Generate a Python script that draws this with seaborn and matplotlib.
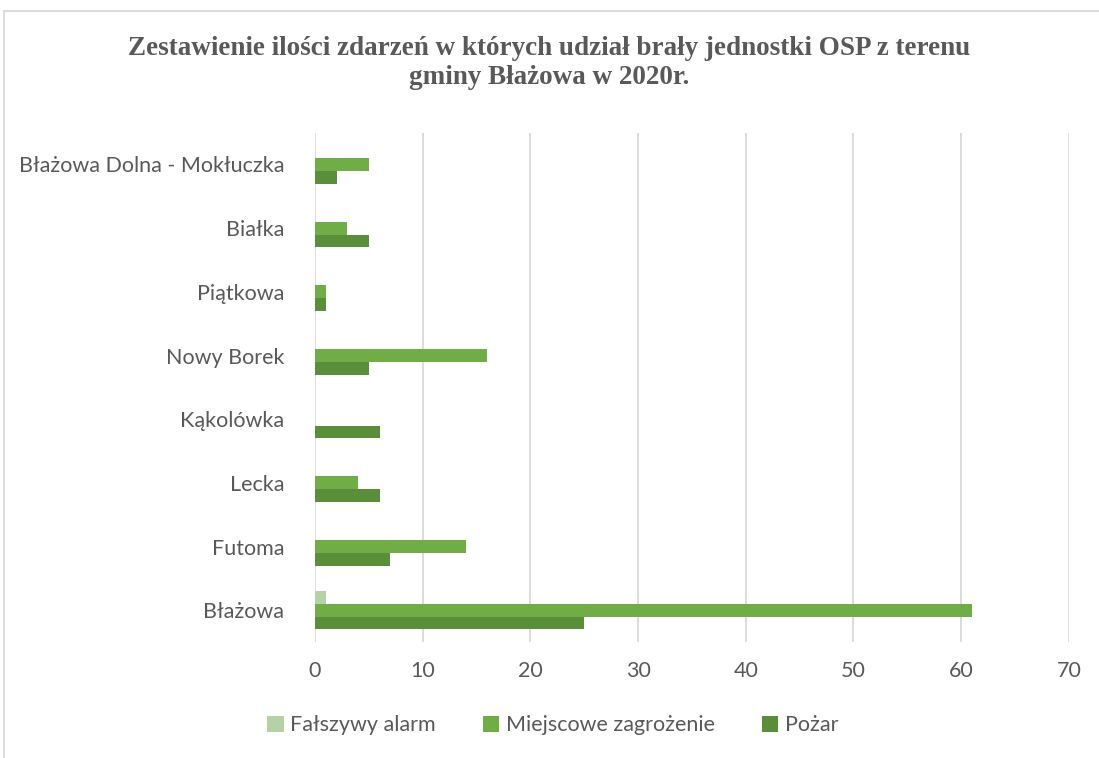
import pandas as pd
import seaborn as sns
import matplotlib.pyplot as plt
from matplotlib.patches import Rectangle

# data
villages = ['Błażowa Dolna - Mokłuczka', 'Białka', 'Piątkowa', 'Nowy Borek',
            'Kąkolówka', 'Lecka', 'Futoma', 'Błażowa']
falszywy = [0, 0, 0, 0, 0, 0, 0, 1]
miejscowe = [5, 3, 1, 16, 0, 4, 14, 61]
pozar = [2, 5, 1, 5, 6, 6, 7, 25]
series = ['Fałszywy alarm', 'Miejscowe zagrożenie', 'Pożar']
colors = ['#B5D1A6', '#70AD47', '#5B8E3B']

df = pd.DataFrame({'Miejscowość': villages, series[0]: falszywy,
                   series[1]: miejscowe, series[2]: pozar})
df = df.melt(id_vars='Miejscowość', var_name='Rodzaj', value_name='Liczba')

sns.set_style('white')
plt.rcParams['font.family'] = ['Lato', 'DejaVu Sans']

fig = plt.figure(figsize=(10.99, 7.58), dpi=100)
ax = fig.add_axes([0.2866, 0.153, 0.686, 0.672])

sns.barplot(data=df, x='Liczba', y='Miejscowość', hue='Rodzaj', hue_order=series,
            palette=colors, saturation=1, width=0.6, orient='h', ax=ax, legend=True,
            edgecolor='none')

ax.set_xlim(0, 70)
ax.set_xticks(range(0, 71, 10))
ax.set_xlabel('')
ax.set_ylabel('')
ax.grid(axis='x', color='#D9D9D9', linewidth=1.3)
ax.set_axisbelow(True)
for s in ax.spines.values():
    s.set_visible(False)
ax.tick_params(axis='both', length=0, labelsize=15.5, colors='#595959')
ax.tick_params(axis='y', pad=22)
ax.tick_params(axis='x', pad=14)

handles, labels = ax.get_legend_handles_labels()
ax.get_legend().remove()
leg = fig.legend(handles, labels, loc='center', bbox_to_anchor=(0.503, 0.043), ncol=3,
                 frameon=False, fontsize=15.5, handlelength=0.75, handleheight=0.75,
                 columnspacing=2.2, handletextpad=0.3)
for t in leg.get_texts():
    t.set_color('#595959')

fig.text(0.5, 0.917, 'Zestawienie ilości zdarzeń w których udział brały jednostki OSP z terenu\ngminy Błażowa w 2020r.',
         ha='center', va='center', fontsize=19.5, fontweight='bold', color='#595959',
         family='Liberation Serif', linespacing=1.2)

fig.patches.append(Rectangle((4 / 1099, -0.1), 1.2, 1 - 11 / 758 + 0.1, transform=fig.transFigure,
                             fill=False, edgecolor='#D9D9D9', linewidth=1.3))

fig.savefig('out.png', dpi=100)
